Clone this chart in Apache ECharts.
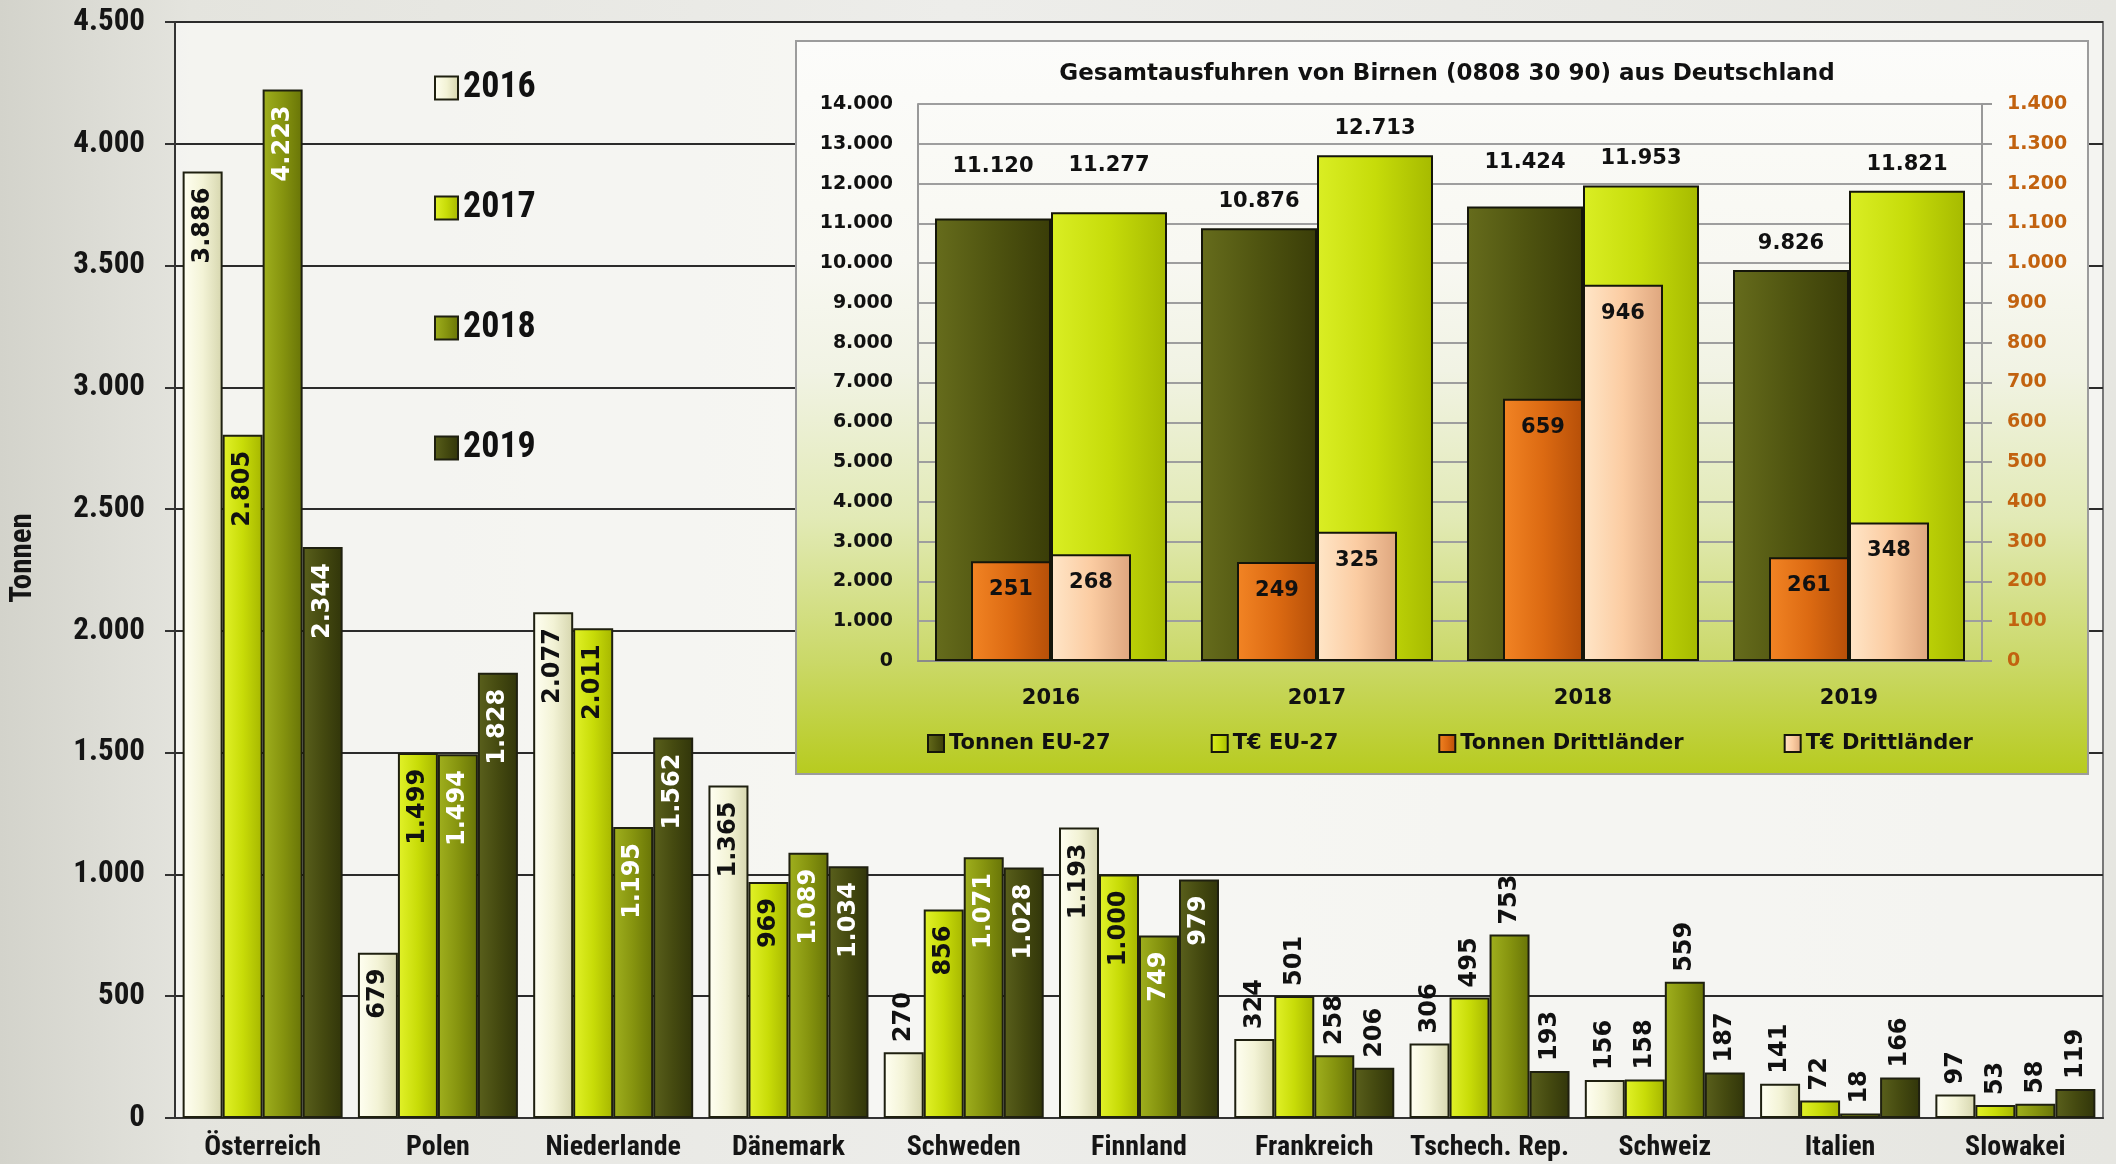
<!DOCTYPE html>
<html>
<head>
<meta charset="utf-8">
<script src="https://cdn.jsdelivr.net/npm/echarts@6/dist/echarts.min.js"></script>
<style>
html, body { margin: 0; padding: 0; }
body {
    width: 2116px; height: 1164px; overflow: hidden;
    background: linear-gradient(90deg, #d3d3cb 0%, #e4e4de 9%, #ededea 45%, #e6e6e1 100%);
}
#main { width: 2116px; height: 1164px; }
</style>
</head>
<body>
<div id="main"></div>
<script>
// Hauptdiagramm: Ausfuhren nach Ländern (Tonnen)
const countries = ['Österreich', 'Polen', 'Niederlande', 'Dänemark', 'Schweden', 'Finnland',
    'Frankreich', 'Tschech. Rep.', 'Schweiz', 'Italien', 'Slowakei']
const t2016 = [3886, 679, 2077, 1365, 270, 1193, 324, 306, 156, 141, 97]
const t2017 = [2805, 1499, 2011, 969, 856, 1000, 501, 495, 158, 72, 53]
const t2018 = [4223, 1494, 1195, 1089, 1071, 749, 258, 753, 559, 18, 58]
const t2019 = [2344, 1828, 1562, 1034, 1028, 979, 206, 193, 187, 166, 119]

// Einsatz: Gesamtausfuhren
const insetYears = ['2016', '2017', '2018', '2019']
const tonnenEU = [11120, 10876, 11424, 9826]
const euroEU = [11277, 12713, 11953, 11821]
const tonnenDritt = [251, 249, 659, 261]
const euroDritt = [268, 325, 946, 348]

// zusätzliche Anhebung einzelner Beschriftungen (px)
const liftTonnenEU = [26, 0, 17, 0]
const liftEuroEU = [20, 0, 0, 0]

const NARROW = "'Liberation Sans Narrow', 'Roboto Condensed', Roboto, sans-serif"
const VERD = "'DejaVu Sans', Verdana, sans-serif"

// 1234 -> "1.234"
const fmt = v => String(v).replace(/\B(?=(\d{3})+(?!\d))/g, '.')

const grad = c => new echarts.graphic.LinearGradient(0, 0, 1, 0, [
    { offset: 0, color: c[0] },
    { offset: 0.5, color: c[1] },
    { offset: 1, color: c[2] }
])

function mainSeries(name, values, colors, inColor) {
    return {
        name: name,
        type: 'bar',
        xAxisIndex: 0,
        yAxisIndex: 0,
        barWidth: 40,
        barGap: '0%',
        itemStyle: { color: grad(colors), borderColor: '#1f2010', borderWidth: 2 },
        label: {
            show: true, rotate: 90, position: 'insideTop', distance: 16,
            align: 'right', verticalAlign: 'middle',
            color: inColor, fontFamily: VERD, fontWeight: 'bold', fontSize: 24,
            formatter: p => fmt(p.value)
        },
        data: values.map((v, i) => (i >= 6 || v < 400)
            ? { value: v, label: { position: 'top', align: 'left', distance: 10, color: '#111' } }
            : v)
    }
}

function insetSeries(name, values, colors, small, lift) {
    return {
        name: name,
        type: 'bar',
        xAxisIndex: small ? 2 : 1,
        yAxisIndex: small ? 2 : 1,
        barWidth: small ? 80 : 116,
        barGap: '0%',
        z: small ? 15 : 14,
        itemStyle: { color: grad(colors), borderColor: '#15160a', borderWidth: 2 },
        label: {
            show: true,
            position: small ? 'insideTop' : 'top',
            distance: small ? 18 : 16,
            color: '#111', fontFamily: VERD, fontWeight: 'bold', fontSize: 21,
            formatter: p => fmt(p.value)
        },
        data: values.map((v, i) => (lift && lift[i])
            ? { value: v, label: { offset: [0, -lift[i]] } }
            : v)
    }
}

const option = {
    animation: false,
    backgroundColor: 'transparent',
    title: {
        text: 'Gesamtausfuhren von Birnen (0808 30 90) aus Deutschland',
        left: 1442,
        top: 58,
        textAlign: 'center',
        z: 20,
        textStyle: { fontFamily: VERD, fontWeight: 'bold', fontSize: 23, color: '#111' }
    },
    graphic: [{
        type: 'rect',
        z: 10,
        shape: { x: 796, y: 41, width: 1292, height: 733 },
        style: {
            fill: new echarts.graphic.LinearGradient(0, 0, 0, 1, [
                { offset: 0, color: '#fcfcfa' },
                { offset: 0.3, color: '#f8f8f2' },
                { offset: 0.45, color: '#f1f3e4' },
                { offset: 0.65, color: '#e2eab6' },
                { offset: 0.85, color: '#cad866' },
                { offset: 1, color: '#b7cb1e' }
            ]),
            stroke: '#9c9c9c',
            lineWidth: 2
        }
    }],
    legend: [{
        data: ['2016', '2017', '2018', '2019'],
        orient: 'vertical',
        left: 429,
        top: 65,
        icon: 'rect',
        itemWidth: 23,
        itemHeight: 23,
        itemGap: 84,
        textStyle: { fontFamily: NARROW, fontWeight: 'bold', fontSize: 36, color: '#111' }
    }, {
        data: ['Tonnen EU-27', 'T€ EU-27', 'Tonnen Drittländer', 'T€ Drittländer'],
        left: 922,
        top: 728,
        icon: 'rect',
        itemWidth: 16,
        itemHeight: 17,
        itemGap: 100,
        z: 20,
        textStyle: { fontFamily: VERD, fontWeight: 'bold', fontSize: 21, color: '#111' }
    }],
    grid: [{
        left: 175, top: 22, right: 13, bottom: 46,
        show: true,
        backgroundColor: 'rgba(249,249,247,0.72)',
        borderColor: '#777',
        borderWidth: 2
    }, {
        left: 918, top: 104, width: 1064, height: 557
    }],
    xAxis: [{
        gridIndex: 0,
        type: 'category',
        data: countries,
        axisLine: { lineStyle: { color: '#333', width: 2 } },
        axisTick: { length: 12, lineStyle: { color: '#333', width: 2 } },
        axisLabel: {
            interval: 0, margin: 16,
            fontFamily: NARROW, fontWeight: 'bold', fontSize: 28, color: '#151515'
        }
    }, {
        gridIndex: 1,
        type: 'category',
        data: insetYears,
        z: 12,
        axisLine: { lineStyle: { color: '#8a8a8a', width: 2 } },
        axisTick: { show: false },
        axisLabel: { margin: 27, fontFamily: VERD, fontWeight: 'bold', fontSize: 21, color: '#111' }
    }, {
        gridIndex: 1,
        type: 'category',
        data: insetYears,
        show: false
    }],
    yAxis: [{
        gridIndex: 0,
        type: 'value',
        min: 0, max: 4500, interval: 500,
        name: 'Tonnen',
        nameLocation: 'middle',
        nameGap: 136,
        nameTextStyle: {
            fontFamily: NARROW, fontWeight: 'bold', fontSize: 31, color: '#151515',
            padding: [0, 0, 0, 24]
        },
        axisLine: { show: true, lineStyle: { color: '#333', width: 2 } },
        axisTick: { show: true, length: 10, lineStyle: { color: '#333', width: 2 } },
        splitLine: { lineStyle: { color: '#2b2b2b', width: 2 } },
        axisLabel: {
            margin: 30, fontFamily: NARROW, fontWeight: 'bold', fontSize: 31, color: '#151515',
            formatter: fmt
        }
    }, {
        gridIndex: 1,
        type: 'value',
        min: 0, max: 14000, interval: 1000,
        z: 12,
        axisLine: { show: true, lineStyle: { color: '#999', width: 2 } },
        axisTick: { show: false },
        splitLine: { lineStyle: { color: '#9e9e9e', width: 2 } },
        axisLabel: {
            margin: 25, fontFamily: VERD, fontWeight: 'bold', fontSize: 19, color: '#111',
            formatter: fmt
        }
    }, {
        gridIndex: 1,
        type: 'value',
        position: 'right',
        min: 0, max: 1400, interval: 100,
        z: 12,
        axisLine: { show: true, lineStyle: { color: '#999', width: 2 } },
        axisTick: { show: true, length: 10, lineStyle: { color: '#999', width: 2 } },
        splitLine: { show: false },
        axisLabel: {
            margin: 25, fontFamily: VERD, fontWeight: 'bold', fontSize: 19, color: '#c2620f',
            formatter: fmt
        }
    }],
    series: [
        mainSeries('2016', t2016, ['#fffff2', '#f3f3d6', '#d6d6ae'], '#111'),
        mainSeries('2017', t2017, ['#e2f22a', '#c8dc08', '#a6b600'], '#111'),
        mainSeries('2018', t2018, ['#a0b01e', '#86940f', '#687407'], '#fff'),
        mainSeries('2019', t2019, ['#5a601c', '#454a10', '#31350a'], '#fff'),
        insetSeries('Tonnen EU-27', tonnenEU, ['#666c1c', '#4f5410', '#3a3d08'], false, liftTonnenEU),
        insetSeries('T€ EU-27', euroEU, ['#daee24', '#c6dc0a', '#a6ba00'], false, liftEuroEU),
        insetSeries('Tonnen Drittländer', tonnenDritt, ['#f28424', '#dc6a12', '#b64f08'], true),
        insetSeries('T€ Drittländer', euroDritt, ['#ffe6c8', '#fbcca2', '#dea67e'], true)
    ]
}

const myChart = echarts.init(document.getElementById('main'))
myChart.setOption(option)
</script>
</body>
</html>
